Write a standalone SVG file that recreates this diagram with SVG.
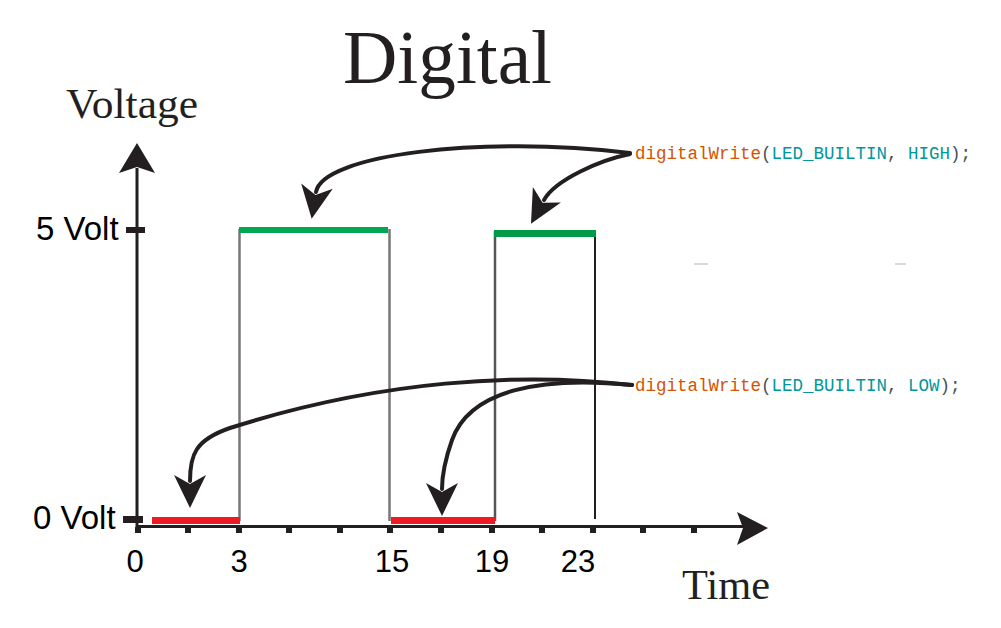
<svg xmlns="http://www.w3.org/2000/svg" width="1001" height="628" viewBox="0 0 1001 628">
<defs>
<style>
.serif{font-family:"Liberation Serif","Times New Roman",serif;fill:#231f20}
.sans{font-family:"Liberation Sans",Arial,sans-serif;fill:#000;font-size:33px}
.num{font-family:"Liberation Sans",Arial,sans-serif;fill:#000;font-size:31px;text-anchor:middle}
.code{font-family:"Liberation Mono","Courier New",monospace;font-size:17.5px;fill:#434f54}
.fn{fill:#d35400}
.kw{fill:#00979c}
.curve{fill:none;stroke:#231f20;stroke-width:4;stroke-linecap:round}
.axis{stroke:#231f20;stroke-width:3;fill:none}
.tick{fill:#231f20}
.vline{stroke:#777;stroke-width:2.5}
.red{fill:#ed1c24}
.green{fill:#00a651}
</style>
<marker id="barb" markerUnits="userSpaceOnUse" orient="auto" markerWidth="40" markerHeight="40" refX="0" refY="0" viewBox="-10 -20 40 40" overflow="visible">
<path d="M27,0 L-6,-16 L3,0 L-6,16 Z" fill="#231f20"/>
</marker>
</defs>
<rect width="1001" height="628" fill="#fff"/>

<g id="title"><text class="serif" x="343" y="83" font-size="76" textLength="209" lengthAdjust="spacingAndGlyphs">Digital</text></g>

<g id="axes">
<line class="axis" x1="137" y1="168" x2="137" y2="528"/>
<path d="M137,143 L155,173 L137,167 L119,173 Z" fill="#231f20"/>
<line class="axis" x1="136" y1="526.5" x2="745" y2="526.5"/>
<path d="M768,528 L737,512 L743,528 L737,545 Z" fill="#231f20"/>
<rect class="tick" x="126" y="227" width="19" height="6"/>
<rect class="tick" x="123" y="516" width="20" height="7"/>
<g id="xticks">
<rect class="tick" x="135" y="527" width="6" height="6"/>
<rect class="tick" x="185" y="527" width="6" height="6"/>
<rect class="tick" x="236" y="527" width="6" height="6"/>
<rect class="tick" x="286" y="527" width="6" height="6"/>
<rect class="tick" x="337" y="527" width="6" height="6"/>
<rect class="tick" x="387" y="527" width="6" height="6"/>
<rect class="tick" x="438" y="527" width="6" height="6"/>
<rect class="tick" x="489" y="527" width="6" height="6"/>
<rect class="tick" x="539" y="527" width="6" height="6"/>
<rect class="tick" x="590" y="527" width="6" height="6"/>
<rect class="tick" x="640" y="527" width="6" height="6"/>
<rect class="tick" x="691" y="527" width="6" height="6"/>
</g>
<text class="serif" x="66" y="118" font-size="42" textLength="132" lengthAdjust="spacingAndGlyphs">Voltage</text>
<text class="serif" x="682" y="599" font-size="42" textLength="88" lengthAdjust="spacingAndGlyphs">Time</text>
<text class="sans" x="36" y="240">5 Volt</text>
<text class="sans" x="33" y="529">0 Volt</text>
<text class="num" x="135" y="572">0</text>
<text class="num" x="239" y="572">3</text>
<text class="num" x="392" y="572">15</text>
<text class="num" x="492" y="572">19</text>
<text class="num" x="578" y="572">23</text>
</g>

<g id="signal">
<line class="vline" x1="239.5" y1="229" x2="239.5" y2="521"/>
<line class="vline" x1="389.5" y1="229" x2="389.5" y2="521"/>
<line x1="495" y1="231" x2="495" y2="521" stroke="#555" stroke-width="2.5"/>
<line x1="595" y1="231" x2="595" y2="519" stroke="#231f20" stroke-width="2"/>
<rect class="green" x="239" y="227" width="149" height="6"/>
<rect x="494" y="230" width="102" height="7" fill="#009a49"/>
<rect class="red" x="152" y="517" width="88" height="7"/>
<rect class="red" x="391" y="517" width="104" height="7"/>
<line x1="694" y1="264" x2="708" y2="264" stroke="#ccc" stroke-width="1.5"/>
<line x1="895" y1="264" x2="906" y2="264" stroke="#ccc" stroke-width="1.5"/>
</g>

<g id="connectors">
<path class="curve" d="M630,153 C480,135 322,155 316,192" marker-end="url(#barb)"/>
<path class="curve" d="M630,154 C600,160 555,180 544,200" marker-end="url(#barb)"/>
<path class="curve" d="M632,385 C520,372 380,380 230,428 C195,440 190,455 190,481" marker-end="url(#barb)"/>
<path class="curve" d="M632,385 C540,376 470,390 452,440 C445,460 442,475 442,489" marker-end="url(#barb)"/>
</g>

<g id="code-high"><text class="code" x="635" y="159"><tspan class="fn">digitalWrite</tspan>(<tspan class="kw">LED_BUILTIN</tspan>, <tspan class="kw">HIGH</tspan>);</text></g>
<g id="code-low"><text class="code" x="635" y="391"><tspan class="fn">digitalWrite</tspan>(<tspan class="kw">LED_BUILTIN</tspan>, <tspan class="kw">LOW</tspan>);</text></g>
</svg>
